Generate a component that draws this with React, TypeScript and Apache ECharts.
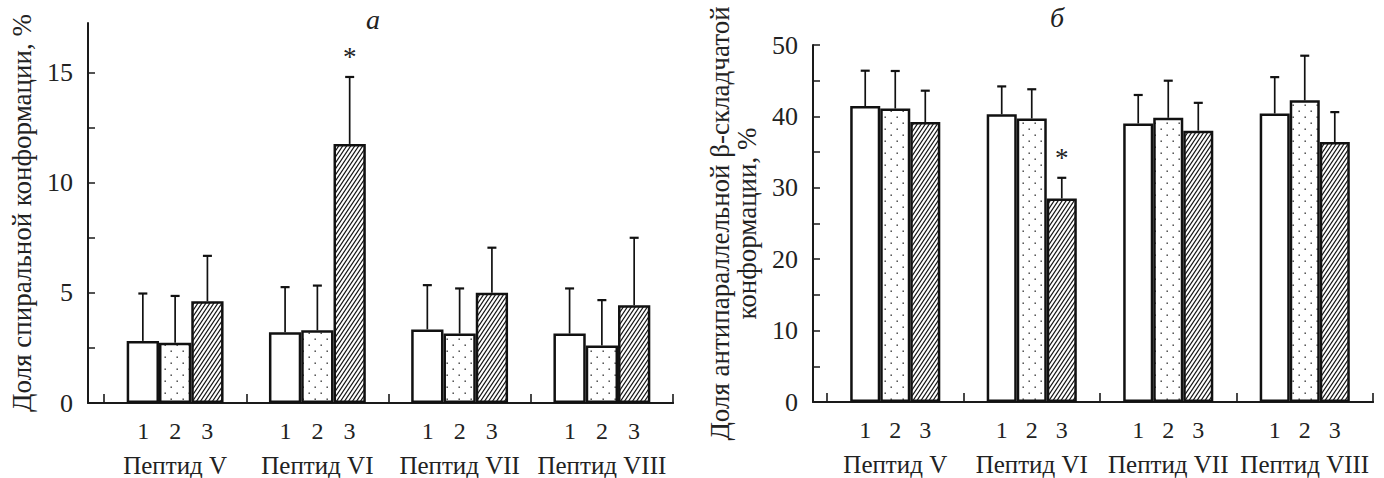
import React, { useEffect, useRef } from "react";
import * as echarts from "echarts";

// ---------- data ----------
const groups = ["Пептид V", "Пептид VI", "Пептид VII", "Пептид VIII"];
const barLabels = ["1", "2", "3"];

// panel a: helix share, %
const helixMean1 = [2.82, 3.21, 3.34, 3.15];
const helixMean2 = [2.73, 3.3, 3.15, 2.61];
const helixMean3 = [4.62, 11.76, 5.0, 4.44];
const helixSd1 = [2.15, 2.05, 2.01, 2.05];
const helixSd2 = [2.13, 2.03, 2.05, 2.06];
const helixSd3 = [2.06, 3.04, 2.05, 3.06];
const helixStars = [[1, 2]]; // [group, bar]
const helixTicks = [0, 2.5, 5, 7.5, 10, 12.5, 15];
const helixLabels = [0, 5, 10, 15];

// panel б: antiparallel beta share, %
const betaMean1 = [41.45, 40.3, 39.0, 40.4];
const betaMean2 = [41.1, 39.7, 39.8, 42.25];
const betaMean3 = [39.2, 28.5, 38.0, 36.4];
const betaSd1 = [4.95, 3.9, 4.0, 5.1];
const betaSd2 = [5.26, 4.1, 5.2, 6.25];
const betaSd3 = [4.4, 2.9, 3.9, 4.2];
const betaStars = [[1, 2]];
const betaTicks = [0, 5, 10, 15, 20, 25, 30, 35, 40, 45, 50];
const betaLabels = [0, 10, 20, 30, 40, 50];

const FONT = "Liberation Serif";
const INK = "#1a1a1a";

function makeDots(): HTMLCanvasElement {
  const c = document.createElement("canvas");
  c.width = 12;
  c.height = 12;
  const g = c.getContext("2d")!;
  g.fillStyle = "#fff";
  g.fillRect(0, 0, 12, 12);
  g.fillStyle = "#333";
  g.fillRect(2.5, 2.5, 1.4, 1.4);
  g.fillRect(8.5, 8.5, 1.4, 1.4);
  return c;
}

function makeHatch(): HTMLCanvasElement {
  const w = 4,
    h = 6;
  const c = document.createElement("canvas");
  c.width = w;
  c.height = h;
  const g = c.getContext("2d")!;
  g.fillStyle = "#fff";
  g.fillRect(0, 0, w, h);
  g.strokeStyle = "#111";
  g.lineWidth = 1.2;
  for (const k of [-1, 0, 1]) {
    g.beginPath();
    g.moveTo(k * w - 0.5 * w, h + 0.5 * h);
    g.lineTo(k * w + 1.5 * w, -0.5 * h);
    g.stroke();
  }
  return c;
}

type Panel = {
  frameLeft: number;
  catLeft: number;
  right: number;
  top: number;
  bottom: number;
  max: number;
  ticks: number[];
  labels: number[];
  nameLines: string[];
  nameGap: number;
  means: number[][];
  sds: number[][];
  stars: number[][];
  ratio: number;
  digitWidth: number;
};

function buildPanel(p: Panel, gi: number, fills: any[]) {
  const g0 = gi * 2,
    g1 = gi * 2 + 1;
  const grids = [
    { left: p.frameLeft, top: p.top, width: p.right - p.frameLeft, height: p.bottom - p.top },
    { left: p.catLeft, top: p.top, width: p.right - p.catLeft, height: p.bottom - p.top },
  ];
  const xAxes = [
    {
      gridIndex: g0,
      type: "value",
      min: 0,
      max: 1,
      axisLine: { show: true, lineStyle: { color: INK, width: 2 } },
      axisTick: { show: false },
      axisLabel: { show: false },
      splitLine: { show: false },
    },
    {
      gridIndex: g1,
      type: "category",
      data: groups,
      axisLine: { show: true, lineStyle: { color: INK, width: 2 } },
      axisTick: { show: true, inside: true, length: 9, interval: 0, lineStyle: { color: INK, width: 1.6 } },
      axisLabel: {
        interval: 0,
        margin: 13,
        color: "#222",
        fontFamily: FONT,
        formatter: (v: string) =>
          barLabels.map((b) => `{n|${b}}`).join("") + `\n{g|${v}}`,
        rich: {
          n: { width: p.digitWidth, align: "center", fontSize: 24, fontFamily: FONT, color: "#222", lineHeight: 30 },
          g: { fontSize: 25, fontFamily: FONT, color: "#222", lineHeight: 38 },
        },
      },
      splitLine: { show: false },
    },
  ];
  const yAxes = [
    {
      gridIndex: g0,
      type: "value",
      min: 0,
      max: p.max,
      axisLine: { show: true, lineStyle: { color: INK, width: 2 } },
      axisTick: { show: true, inside: true, length: 7, customValues: p.ticks, lineStyle: { color: INK, width: 1.5 } },
      axisLabel: {
        customValues: p.labels,
        margin: 15,
        formatter: (v: number) => `{t|${v}}`,
        rich: { t: { fontSize: 26, fontFamily: FONT, color: "#222" } },
      },
      splitLine: { show: false },
      name: p.nameLines.map((l) => `{t|${l}}`).join("\n"),
      nameLocation: "middle",
      nameGap: p.nameGap,
      nameTextStyle: {
        fontFamily: FONT,
        fontSize: 27,
        lineHeight: 27,
        rich: { t: { fontSize: 27, fontFamily: FONT, color: "#222", lineHeight: 27 } },
      },
    },
    {
      gridIndex: g1,
      type: "value",
      min: 0,
      max: p.max,
      show: false,
      splitLine: { show: false },
    },
  ];
  const series: any[] = p.means.map((m, i) => ({
    type: "bar",
    xAxisIndex: g1,
    yAxisIndex: g1,
    data: m,
    barWidth: `${p.ratio * 100}%`,
    barGap: "0%",
    itemStyle: { color: fills[i], borderColor: "#111", borderWidth: 2.5 },
    z: 2,
  }));
  const errData: number[][] = [];
  p.means.forEach((m, b) =>
    m.forEach((v, c) => {
      const star = p.stars.some((s) => s[0] === c && s[1] === b) ? 1 : 0;
      errData.push([c, b, v, p.sds[b][c], star]);
    })
  );
  series.push({
    type: "custom",
    xAxisIndex: g1,
    yAxisIndex: g1,
    data: errData,
    encode: { x: 0, y: 2 },
    z: 5,
    renderItem: (_params: any, api: any) => {
      const cat = api.value(0),
        b = api.value(1),
        m = api.value(2),
        sd = api.value(3),
        star = api.value(4);
      const band = api.size([1, 0])[0];
      const bw = band * p.ratio;
      const base = api.coord([cat, m]);
      const top = api.coord([cat, m + sd]);
      const x = base[0] + (b - 1) * bw;
      const children: any[] = [
        { type: "line", shape: { x1: x, y1: base[1], x2: x, y2: top[1] }, style: { stroke: "#111", lineWidth: 1.7 } },
        { type: "line", shape: { x1: x - 4.5, y1: top[1], x2: x + 4.5, y2: top[1] }, style: { stroke: "#111", lineWidth: 2.2 } },
      ];
      if (star) {
        children.push({
          type: "text",
          x,
          y: top[1] - 20,
          style: { text: "*", font: `27px ${FONT}`, fill: "#222", align: "center", verticalAlign: "middle" },
        });
      }
      return { type: "group", children };
    },
  });
  return { grids, xAxes, yAxes, series };
}

export default function App() {
  const ref = useRef<HTMLDivElement>(null);
  useEffect(() => {
    if (!ref.current) return;
    const chart = echarts.init(ref.current, null, { renderer: "svg" });
    const dots = makeDots();
    const hatch = makeHatch();
    const fills = [
      "#ffffff",
      { image: dots, repeat: "repeat" },
      { image: hatch, repeat: "repeat" },
    ];
    const a = buildPanel(
      {
        frameLeft: 88,
        catLeft: 104,
        right: 673,
        top: 23,
        bottom: 403,
        max: 17.25,
        ticks: helixTicks,
        labels: helixLabels,
        nameLines: ["Доля спиральной конформации, %"],
        nameGap: 53,
        means: [helixMean1, helixMean2, helixMean3],
        sds: [helixSd1, helixSd2, helixSd3],
        stars: helixStars,
        ratio: 0.227,
        digitWidth: 32,
      },
      0,
      fills
    );
    const b = buildPanel(
      {
        frameLeft: 813,
        catLeft: 827,
        right: 1373,
        top: 45,
        bottom: 402,
        max: 50,
        ticks: betaTicks,
        labels: betaLabels,
        nameLines: ["Доля антипараллельной β-складчатой", "конформации, %"],
        nameGap: 53,
        means: [betaMean1, betaMean2, betaMean3],
        sds: [betaSd1, betaSd2, betaSd3],
        stars: betaStars,
        ratio: 0.22,
        digitWidth: 30,
      },
      1,
      fills
    );
    chart.setOption({
      animation: false,
      backgroundColor: "#ffffff",
      textStyle: { fontFamily: FONT },
      grid: [...a.grids, ...b.grids],
      xAxis: [...a.xAxes, ...b.xAxes],
      yAxis: [...a.yAxes, ...b.yAxes],
      series: [...a.series, ...b.series],
      graphic: [
        {
          type: "text",
          x: 373,
          y: 19,
          style: { text: "a", font: `italic 28px ${FONT}`, fill: "#222", align: "center", verticalAlign: "middle" },
        },
        {
          type: "text",
          x: 1057,
          y: 17,
          style: { text: "б", font: `italic 28px ${FONT}`, fill: "#222", align: "center", verticalAlign: "middle" },
        },
      ],
    });
    return () => chart.dispose();
  }, []);
  return (
    <div
      ref={ref}
      style={{ position: "absolute", left: 0, top: 0, width: 1384, height: 478, background: "#fff" }}
    />
  );
}
